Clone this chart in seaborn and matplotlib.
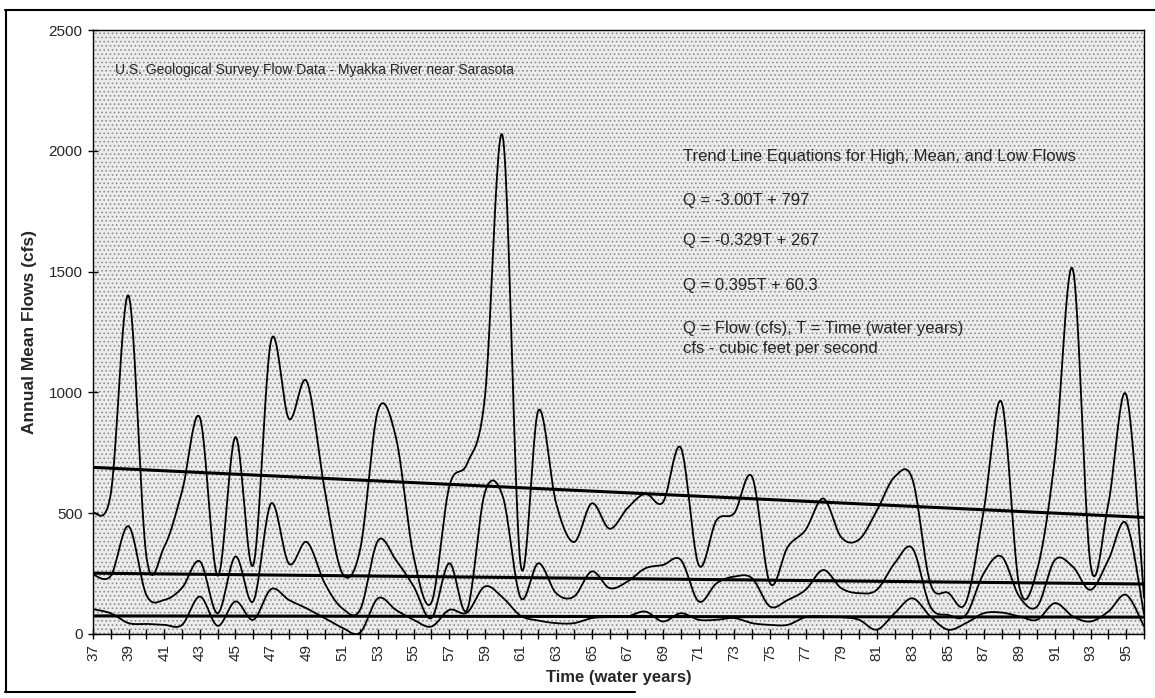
import numpy as np
import pandas as pd
import matplotlib
matplotlib.use("Agg")
import matplotlib.pyplot as plt
import seaborn as sns
from matplotlib.patches import Rectangle
from matplotlib.lines import Line2D

# ---------------- data ----------------
years = list(range(37, 97))
high_flow = [500, 580, 1400, 320, 360, 590, 895, 240, 815, 285,
             1215, 890, 1045, 600, 250, 350, 925, 815, 320, 130,
             610, 705, 980, 2060, 290, 925, 540, 380, 540, 435,
             520, 580, 545, 770, 285, 470, 500, 650, 210, 360,
             430, 560, 400, 390, 510, 650, 640, 210, 170, 130,
             510, 960, 195, 265, 730, 1510, 285, 540, 990, 150]
mean_flow = [245, 240, 445, 160, 140, 190, 300, 85, 320, 135,
             540, 290, 380, 210, 105, 100, 386, 306, 196, 65,
             292, 99, 585, 570, 150, 292, 168, 154, 258, 189,
             216, 271, 285, 306, 134, 209, 237, 230, 113, 140,
             182, 264, 189, 168, 182, 292, 354, 113, 78, 78,
             250, 320, 154, 113, 306, 278, 182, 306, 457, 80]
low_flow = [102, 85, 44, 41, 37, 37, 154, 33, 134, 58,
            185, 140, 105, 65, 25, 5, 147, 99, 58, 30,
            99, 88, 196, 150, 75, 55, 44, 44, 65, 69,
            72, 92, 51, 85, 58, 58, 65, 44, 37, 37,
            69, 72, 69, 58, 17, 85, 147, 72, 17, 44,
            85, 88, 72, 58, 127, 72, 51, 92, 161, 30]
trend_years = [37, 96]
trend_high = [689, 482]
trend_mean = [251, 206]
trend_low = [74, 69]

y_ticks = [0, 500, 1000, 1500, 2000, 2500]
x_tick_labels = [str(y) if y % 2 == 1 else "" for y in years]

note_title = "U.S. Geological Survey Flow Data - Myakka River near Sarasota"
eq_lines = ["Trend Line Equations for High, Mean, and Low Flows",
            "Q = -3.00T + 797",
            "Q = -0.329T + 267",
            "Q = 0.395T + 60.3",
            "Q = Flow (cfs), T = Time (water years)",
            "cfs - cubic feet per second"]


def smooth(x, y, n=24):
    """Excel-style smoothed line (uniform Catmull-Rom) for drawing."""
    x = np.asarray(x, float)
    y = np.asarray(y, float)
    px = np.concatenate([[x[0]], x, [x[-1]]])
    py = np.concatenate([[y[0]], y, [y[-1]]])
    xs, ys = [], []
    t = np.linspace(0, 1, n, endpoint=False)
    for i in range(1, len(px) - 2):
        p0, p1, p2, p3 = (np.array([px[j], py[j]]) for j in (i - 1, i, i + 1, i + 2))
        c1 = p1 + (p2 - p0) / 6.0
        c2 = p2 - (p3 - p1) / 6.0
        b = ((1 - t) ** 3)[:, None] * p1 + (3 * (1 - t) ** 2 * t)[:, None] * c1 \
            + (3 * (1 - t) * t ** 2)[:, None] * c2 + (t ** 3)[:, None] * p2
        xs.extend(b[:, 0]); ys.extend(b[:, 1])
    xs.append(x[-1]); ys.append(y[-1])
    return np.array(xs), np.array(ys)


sns.set_theme(style="white")
plt.rcParams["font.family"] = ["Liberation Sans", "DejaVu Sans"]
plt.rcParams["hatch.linewidth"] = 0.7

fig = plt.figure(figsize=(11.55, 6.98), dpi=100)
ax = fig.add_axes([0.0805, 0.092, 0.9100, 0.865])

# stippled grey background
ax.set_facecolor("#f2f2f2")
ax.add_patch(Rectangle((0, 0), 1, 1, transform=ax.transAxes, facecolor="#ececec",
                       edgecolor="#8f8f8f", hatch="....", lw=0, zorder=0))

for series in (high_flow, mean_flow, low_flow):
    sx, sy = smooth(years, series)
    df = pd.DataFrame({"year": sx, "flow": sy})
    sns.lineplot(data=df, x="year", y="flow", ax=ax, color="black", lw=1.3,
                 estimator=None, sort=False, zorder=3)

for tr in (trend_high, trend_mean, trend_low):
    df = pd.DataFrame({"year": trend_years, "flow": tr})
    sns.lineplot(data=df, x="year", y="flow", ax=ax, color="black", lw=2.2,
                 estimator=None, sort=False, zorder=4)

ax.set_xlim(37, 96)
ax.set_ylim(0, 2500)
ax.set_xticks(years)
ax.set_xticklabels(x_tick_labels, rotation=90, fontsize=11)
ax.set_yticks(y_ticks)
ax.set_yticklabels([str(v) for v in y_ticks], fontsize=11)
ax.tick_params(axis="both", direction="inout", length=7, width=1, color="black",
               bottom=True, left=True, pad=4)
for s in ax.spines.values():
    s.set_visible(True)
    s.set_color("black")
    s.set_linewidth(1.0)

ax.set_xlabel("Time (water years)", fontsize=12, fontweight="bold", labelpad=6)
ax.set_ylabel("Annual Mean Flows (cfs)", fontsize=12.5, fontweight="bold", labelpad=8)

ax.text(0.021, 0.934, note_title, transform=ax.transAxes, fontsize=10, va="center",
        ha="left", zorder=5)
eq_y = [0.791, 0.718, 0.652, 0.577, 0.505, 0.472]
for txt, yy in zip(eq_lines, eq_y):
    ax.text(0.561, yy, txt, transform=ax.transAxes, fontsize=12, va="center",
            ha="left", zorder=5)

# scanned page frame
fig.add_artist(Line2D([0.004, 1.0], [0.985, 0.985], color="black", lw=1.5,
                      transform=fig.transFigure))
fig.add_artist(Line2D([0.005, 0.005], [0.008, 0.985], color="black", lw=1.5,
                      transform=fig.transFigure))
fig.add_artist(Line2D([0.004, 0.55], [0.008, 0.008], color="black", lw=1.5,
                      transform=fig.transFigure))

fig.savefig("out.png", dpi=100)
